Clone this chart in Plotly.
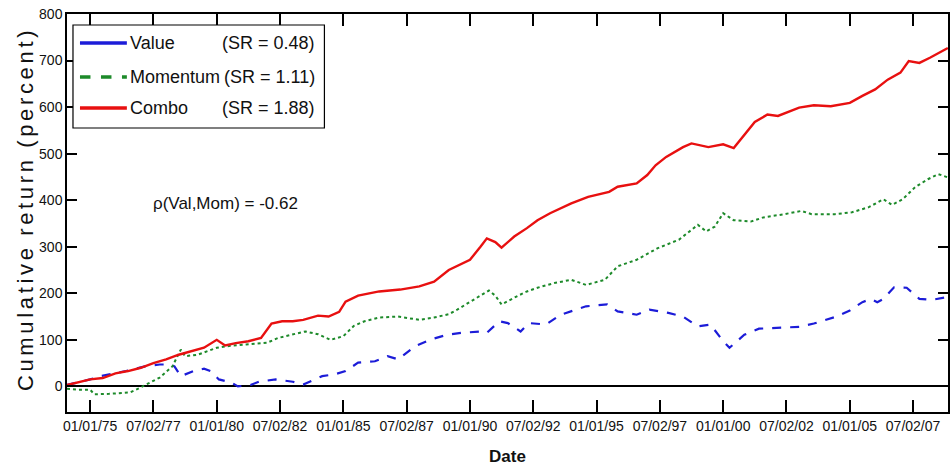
import plotly.graph_objects as go

# ---------------- data ----------------
value_dates = ["1974-02", "1974-07", "1975-01", "1975-06", "1976-06", "1977-03", "1977-10",
               "1978-03", "1978-05", "1978-08", "1979-02", "1979-07", "1979-10", "1980-02",
               "1980-08", "1980-11", "1981-05", "1981-09", "1982-05", "1983-01", "1983-06",
               "1984-03", "1984-09", "1985-02", "1985-08", "1986-04", "1986-10", "1987-03",
               "1987-11", "1988-06", "1989-02", "1989-09", "1990-06", "1990-09", "1991-03",
               "1991-07", "1992-01", "1992-05", "1993-01", "1993-08", "1994-08", "1995-06",
               "1995-11", "1996-08", "1997-02", "1997-11", "1998-06", "1999-01", "1999-07",
               "2000-01", "2000-04", "2000-11", "2001-06", "2003-01", "2003-08", "2004-06",
               "2005-01", "2005-07", "2005-11", "2006-02", "2006-05", "2006-10", "2007-04",
               "2007-10", "2008-04", "2008-11-15"]
value_values = [3, 8, 15, 22, 33, 43, 47,
                47, 43, 22, 33, 38, 33, 15,
                8, 0, 3, 10, 15, 10, 4,
                22, 26, 33, 51, 54, 65, 58,
                86, 100, 111, 115, 118, 115, 140,
                136, 118, 136, 133, 154, 172, 176,
                161, 154, 165, 158, 150, 129, 133,
                97, 83, 111, 124, 128, 135, 149,
                163, 181, 188, 181, 188, 213, 212,
                188, 186, 192]

momentum_dates = ["1974-02", "1974-07", "1975-01", "1975-03", "1975-10", "1976-08", "1977-01",
                  "1977-10", "1978-04", "1978-08", "1978-10", "1979-04", "1980-01", "1980-05",
                  "1981-03", "1982-01", "1982-06", "1983-01", "1983-07", "1984-01", "1984-07",
                  "1985-01", "1985-06", "1985-11", "1986-06", "1987-03", "1988-01", "1988-08",
                  "1989-03", "1989-07", "1990-03", "1990-10", "1991-01", "1991-04", "1991-11",
                  "1992-04", "1992-09", "1993-05", "1994-01", "1994-08", "1995-05", "1995-11",
                  "1996-08", "1997-06", "1998-04", "1999-01", "1999-05", "1999-09", "2000-01",
                  "2000-06", "2001-02", "2001-08", "2002-06", "2003-02", "2003-07", "2004-06",
                  "2005-02", "2005-10", "2006-05", "2006-09", "2007-02", "2007-08", "2008-02",
                  "2008-07", "2008-11-15"]
momentum_values = [-5, -7, -7, -17, -16, -13, -2,
                   19, 43, 79, 65, 68, 83, 86,
                   90, 94, 104, 112, 118, 112, 100,
                   108, 130, 140, 148, 150, 143, 148,
                   155, 165, 186, 206, 195, 176, 193,
                   204, 212, 222, 229, 218, 229, 258,
                   272, 297, 315, 347, 333, 343, 372,
                   357, 354, 363, 370, 377, 370, 370,
                   374, 385, 402, 390, 402, 428, 445,
                   456, 449]

combo_dates = ["1974-02", "1974-07", "1975-01", "1975-07", "1976-01", "1976-07", "1977-01",
               "1977-07", "1978-01", "1978-07", "1979-01", "1979-07", "1980-01", "1980-05",
               "1980-10", "1981-04", "1981-10", "1982-03", "1982-08", "1983-01", "1983-06",
               "1984-01", "1984-06", "1984-11", "1985-02", "1985-08", "1986-06", "1987-04",
               "1988-01", "1988-08", "1989-03", "1990-01", "1990-06", "1990-09", "1991-01",
               "1991-04", "1991-10", "1992-04", "1992-09", "1993-03", "1994-01", "1994-09",
               "1995-07", "1995-11", "1996-08", "1997-01", "1997-05", "1997-10", "1998-06",
               "1998-10", "1999-06", "2000-01", "2000-06", "2001-01", "2001-04", "2001-10",
               "2002-03", "2003-01", "2003-08", "2004-04", "2005-01", "2005-07", "2006-01",
               "2006-07", "2007-01", "2007-05", "2007-10", "2008-03", "2008-11-15"]
combo_values = [3, 8, 15, 18, 28, 33, 40,
                50, 58, 68, 76, 83, 100, 88,
                93, 97, 104, 135, 140, 140, 143,
                152, 150, 160, 182, 195, 204, 208,
                215, 225, 250, 272, 300, 318, 310,
                298, 322, 340, 357, 372, 393, 407,
                418, 429, 436, 454, 475, 493, 514,
                522, 514, 520, 512, 550, 568, 584,
                581, 599, 604, 602, 609, 624, 638,
                659, 674, 699, 695, 706, 727]

tick_dates = ["1975-01-01", "1977-07-02", "1980-01-01", "1982-07-02", "1985-01-01",
              "1987-07-02", "1990-01-01", "1992-07-02", "1995-01-01", "1997-07-02",
              "2000-01-01", "2002-07-02", "2005-01-01", "2007-07-02"]
tick_labels = ["01/01/75", "07/02/77", "01/01/80", "07/02/82", "01/01/85", "07/02/87",
               "01/01/90", "07/02/92", "01/01/95", "07/02/97", "01/01/00", "07/02/02",
               "01/01/05", "07/02/07"]

series_names = ["Value", "Momentum", "Combo"]
sharpe_labels = ["(SR = 0.48)", "(SR = 1.11)", "(SR = 1.88)"]
corr_label = "\u03c1(Val,Mom) = -0.62"
y_title = "Cumulative return (percent)"

# ---------------- styling ----------------
FONT = "Liberation Sans, Arial, sans-serif"
TXT = "#111111"
BLUE = "#1c1cd8"
GREEN = "#1d8a2a"
RED = "#e81010"

W, H = 951, 474
L, R, T, B = 67, 950, 14, 412


def px(x):
    return (x - L) / (R - L)


def py(y):
    return (B - y) / (B - T)


def spaced(s):
    # letter-spaced text (six-per-em spaces between letters)
    words = s.split(" ")
    return "  ".join("\u2006".join(list(w)) for w in words)


fig = go.Figure()
fig.add_trace(go.Scatter(x=value_dates, y=value_values, mode="lines", name=series_names[0],
                         line=dict(color=BLUE, width=2.2, dash="dash"), showlegend=False))
fig.add_trace(go.Scatter(x=momentum_dates, y=momentum_values, mode="lines", name=series_names[1],
                         line=dict(color=GREEN, width=2, dash="dot"), showlegend=False))
fig.add_trace(go.Scatter(x=combo_dates, y=combo_values, mode="lines", name=series_names[2],
                         line=dict(color=RED, width=2.4), showlegend=False))

shapes = []
annotations = []

# legend box
shapes.append(dict(type="rect", xref="paper", yref="paper", x0=px(73), x1=px(325),
                   y0=py(128), y1=py(25), line=dict(color="black", width=1.2),
                   fillcolor="white", layer="above"))
legend_colors = [BLUE, GREEN, RED]
legend_dash = ["solid", "dash", "solid"]
legend_rows = [43, 77, 108]
for i in range(3):
    shapes.append(dict(type="line", xref="paper", yref="paper", x0=px(80), x1=px(127),
                       y0=py(legend_rows[i]), y1=py(legend_rows[i]),
                       line=dict(color=legend_colors[i], width=3.5, dash=legend_dash[i]),
                       layer="above"))
    annotations.append(dict(xref="paper", yref="paper", x=px(128), y=py(legend_rows[i]),
                            text=series_names[i], showarrow=False, xanchor="left",
                            yanchor="middle", font=dict(family=FONT, size=18, color=TXT)))
    annotations.append(dict(xref="paper", yref="paper", x=px(318), y=py(legend_rows[i]),
                            text=sharpe_labels[i], showarrow=False, xanchor="right",
                            yanchor="middle", font=dict(family=FONT, size=18, color=TXT)))

annotations.append(dict(xref="paper", yref="paper", x=px(226), y=py(204), text=corr_label,
                        showarrow=False, xanchor="center", yanchor="middle",
                        font=dict(family=FONT, size=17, color=TXT)))

# axis titles
annotations.append(dict(xref="paper", yref="paper", x=px(508), y=py(456), text="<b>Date</b>",
                        showarrow=False, xanchor="center", yanchor="middle",
                        font=dict(family=FONT, size=17, color=TXT)))
annotations.append(dict(xref="paper", yref="paper", x=px(25), y=py(211), text=spaced(y_title),
                        showarrow=False, xanchor="center", yanchor="middle", textangle=-90,
                        font=dict(family=FONT, size=22, color=TXT)))

fig.update_layout(
    width=W, height=H,
    margin=dict(l=L, r=W - R, t=T, b=H - B, pad=0),
    paper_bgcolor="white", plot_bgcolor="white",
    shapes=shapes, annotations=annotations,
    showlegend=False,
    xaxis=dict(
        type="date", range=["1974-02-01", "2008-11-17"],
        tickmode="array", tickvals=tick_dates, ticktext=tick_labels, tickangle=0,
        ticks="inside", ticklen=12, tickwidth=1.5, tickcolor="black",
        showline=True, linecolor="black", linewidth=1.5, mirror="ticks",
        showgrid=False, zeroline=False,
        tickfont=dict(family=FONT, size=14, color=TXT),
    ),
    yaxis=dict(
        range=[-55, 800],
        tickmode="array", tickvals=[0, 100, 200, 300, 400, 500, 600, 700, 800],
        ticks="inside", ticklen=10, tickwidth=1.5, tickcolor="black",
        showline=True, linecolor="black", linewidth=1.5, mirror="ticks",
        showgrid=False, zeroline=True, zerolinecolor="black", zerolinewidth=1.5,
        tickfont=dict(family=FONT, size=14, color=TXT),
    ),
)

fig.write_html("out.html", config={"displayModeBar": False},
               post_script="document.body.style.margin='0';")
